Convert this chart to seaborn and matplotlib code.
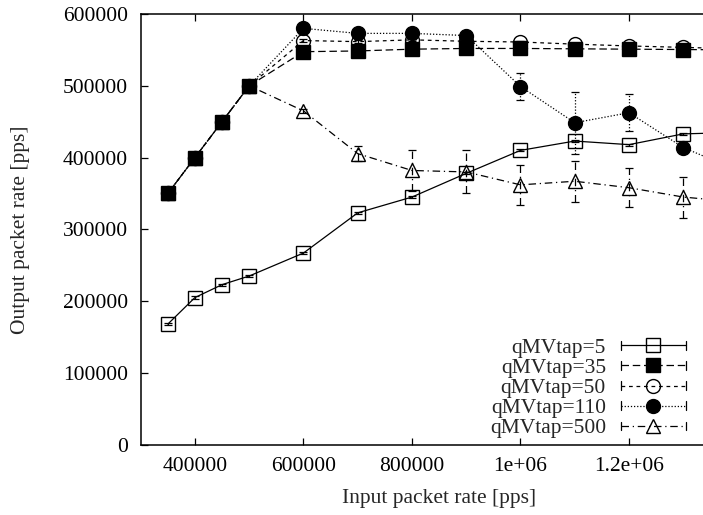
import matplotlib
matplotlib.use("Agg")
import matplotlib.pyplot as plt
from matplotlib.lines import Line2D
from matplotlib.legend_handler import HandlerLine2D
import seaborn as sns
import pandas as pd

# ---------------- data ----------------
x_rate = [350000, 400000, 450000, 500000, 600000, 700000, 800000, 900000,
          1000000, 1100000, 1200000, 1300000, 1400000]

q5 = [168000, 205000, 223000, 235000, 267000, 323000, 345000, 378000,
      410000, 423000, 418000, 433000, 435000]
q5_err = [1500, 1500, 1500, 1500, 1500, 1500, 1500, 1500,
          1500, 1500, 1500, 1500, 1500]

q35 = [350000, 400000, 450000, 500000, 547500, 548500, 551000, 552000,
       552000, 551500, 551000, 550500, 550000]
q35_err = [1000, 1000, 1000, 1000, 1500, 1500, 1500, 1500,
           1500, 1500, 1500, 1500, 1500]

q50 = [350000, 400000, 450000, 500000, 563000, 561500, 564000, 562000,
       561000, 558000, 555500, 553500, 551500]
q50_err = [1000, 1000, 1000, 1000, 2000, 2000, 2000, 2000,
           2000, 2000, 2000, 2000, 2000]

q110 = [350000, 400000, 450000, 500000, 580000, 573000, 573000, 570000,
        499000, 448500, 462500, 414000, 382000]
q110_err = [1000, 1000, 1000, 1000, 3000, 3000, 3000, 3000,
            19000, 43000, 26000, 5000, 5000]

q500 = [350000, 400000, 450000, 500000, 465000, 405500, 382000, 380000,
        362000, 367000, 358000, 345000, 338000]
q500_err = [1000, 1000, 1000, 1000, 3000, 10000, 29000, 30000,
            28000, 28500, 27000, 28500, 28000]

labels = ["qMVtap=5", "qMVtap=35", "qMVtap=50", "qMVtap=110", "qMVtap=500"]
x_ticks = [400000, 600000, 800000, 1000000, 1200000]
x_tick_labels = ["400000", "600000", "800000", "1e+06", "1.2e+06"]
y_ticks = [0, 100000, 200000, 300000, 400000, 500000, 600000]

# ---------------- style ----------------
sns.set_style("ticks")
plt.rcParams["font.family"] = ["Liberation Serif", "DejaVu Serif"]
FS = 15.5
plt.rcParams["font.size"] = FS

series = [
    (labels[0], q5, q5_err, dict(marker="s", mfc="none", ms=9.5, ls="-")),
    (labels[1], q35, q35_err, dict(marker="s", mfc="black", ms=9.5, ls=(0, (6, 3)))),
    (labels[2], q50, q50_err, dict(marker="o", mfc="none", ms=10, ls=(0, (3, 3)))),
    (labels[3], q110, q110_err, dict(marker="o", mfc="black", ms=10, ls=(0, (1, 1.5)))),
    (labels[4], q500, q500_err, dict(marker="^", mfc="none", ms=10, ls=(0, (6, 3, 1, 3)))),
]

fig = plt.figure(figsize=(7.03, 5.15), dpi=100)
W, H = 703.0, 515.0
left_px, right_px, top_px, bottom_px = 140.7, 737.5, 14.0, 444.7
ax = fig.add_axes([left_px / W, (H - bottom_px) / H,
                   (right_px - left_px) / W, (bottom_px - top_px) / H])

handles = []
for name, yv, ev, st in series:
    df = pd.DataFrame({"x": x_rate, "y": yv})
    sns.lineplot(data=df, x="x", y="y", ax=ax, color="black",
                 linewidth=0.9, linestyle=st["ls"], marker=st["marker"],
                 markersize=st["ms"], markerfacecolor=st["mfc"],
                 markeredgecolor="black", markeredgewidth=1.0,
                 errorbar=None, sort=False, legend=False)
    eb = ax.errorbar(x_rate, yv, yerr=ev, fmt="none", ecolor="black",
                     elinewidth=0.9, capsize=3, capthick=0.9)
    for lc in eb[2]:
        lc.set_linestyle(st["ls"])
    handles.append(Line2D([], [], color="black", linewidth=0.9,
                          linestyle=st["ls"], marker=st["marker"],
                          markersize=st["ms"], markerfacecolor=st["mfc"],
                          markeredgecolor="black", markeredgewidth=1.0,
                          label=name))


class CapHandler(HandlerLine2D):
    def create_artists(self, legend, orig_handle, xdescent, ydescent,
                       width, height, fontsize, trans):
        arts = super().create_artists(legend, orig_handle, xdescent, ydescent,
                                      width, height, fontsize, trans)
        yc = ((height - ydescent) / 2.0)
        x0 = -xdescent
        x1 = width - xdescent
        h = 3.0
        for xx in (x0, x1):
            t = Line2D([xx, xx], [yc - h, yc + h], color="black",
                       linewidth=0.9, transform=trans)
            arts.append(t)
        return arts


ax.set_xlim(300000, 1400000)
ax.set_ylim(0, 600000)
ax.set_xticks(x_ticks)
ax.set_xticklabels(x_tick_labels)
ax.set_yticks(y_ticks)
ax.set_yticklabels([str(v) for v in y_ticks])
ax.tick_params(direction="in", length=5, width=0.9, top=True, right=True,
               labelsize=FS, colors="black")
ax.tick_params(axis="y", pad=9)
ax.tick_params(axis="x", pad=9)
for sp in ax.spines.values():
    sp.set_visible(True)
    sp.set_linewidth(1.1)
    sp.set_color("black")

ax.set_xlabel("Input packet rate [pps]", fontsize=FS, labelpad=9)
ax.set_ylabel("Output packet rate [pps]", fontsize=FS, labelpad=24)

leg = ax.legend(handles=handles, loc="lower right", markerfirst=False,
                frameon=False, fontsize=FS, handlelength=3.0,
                handletextpad=0.7, labelspacing=0.0, borderpad=0.0,
                borderaxespad=0.0, bbox_to_anchor=(0.913, 0.015),
                handler_map={Line2D: CapHandler(numpoints=1)})

fig.savefig("out.png", dpi=100)
